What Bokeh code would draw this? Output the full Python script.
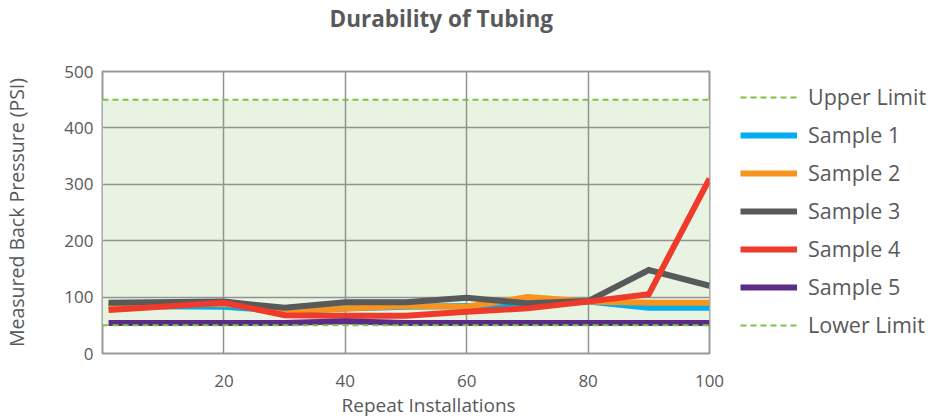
from bokeh.plotting import figure
from bokeh.models import Range1d, FixedTicker, BoxAnnotation, Legend, LegendItem, Title
from bokeh.embed import file_html
from bokeh.resources import INLINE

# ---- data ----
installs = [1, 20, 30, 40, 50, 60, 70, 80, 90, 100]
sample1 = [84, 83, 75, 80, 83, 84, 88, 92, 81, 81]
sample2 = [85, 88, 76, 80, 84, 83, 100, 92, 90, 90]
sample3 = [90, 92, 81, 91, 91, 99, 89, 93, 148, 120]
sample4 = [77, 90, 68, 67, 67, 74, 80, 92, 105, 310]
sample5 = [54, 54, 54, 57, 54, 54, 54, 54, 54, 54]
upper_limit = 450
lower_limit = 50
x_ticks = [20, 40, 60, 80, 100]
y_ticks = [0, 100, 200, 300, 400, 500]
series_names = ["Sample 1", "Sample 2", "Sample 3", "Sample 4", "Sample 5"]

TXT = "#58595B"
FONT = "Open Sans"
colors = ["#00AEEF", "#F7941D", "#58595B", "#EF3B2C", "#5B2C86"]
green = "#7DC242"

x_lo, x_hi = 0, 100
p = figure(frame_width=607, frame_height=282, x_range=Range1d(x_lo, x_hi), y_range=Range1d(0, 500),
           output_backend="svg", toolbar_location=None, title=None,
           min_border_left=0, min_border_right=0, min_border_top=0, min_border_bottom=0)

# spacer between frame and title, then the title itself (outermost)
spacer = Title(text=" ", text_font=FONT, text_font_size="10px", standoff=22)
p.add_layout(spacer, "above")
main_title = Title(text="Durability of Tubing", align="left", offset=227, standoff=0,
                   text_font=FONT, text_font_size="22.5px", text_font_style="bold", text_color=TXT)
p.add_layout(main_title, "above")

p.background_fill_color = "white"
p.border_fill_color = "white"
p.outline_line_color = "#999999"
p.outline_line_width = 2

# shaded acceptable band
band = BoxAnnotation(bottom=lower_limit, top=upper_limit, fill_color="#E9F3E1", fill_alpha=1,
                     line_alpha=0, level="image")
p.add_layout(band)

p.xgrid.ticker = FixedTicker(ticks=x_ticks)
p.ygrid.ticker = FixedTicker(ticks=y_ticks)
p.grid.grid_line_color = "#929292"
p.grid.grid_line_width = 1.5

for ax in (p.xaxis, p.yaxis):
    ax.axis_line_color = None
    ax.major_tick_line_color = None
    ax.minor_tick_line_color = None
    ax.major_label_text_font = FONT
    ax.major_label_text_font_size = "17px"
    ax.major_label_text_color = TXT
    ax.axis_label_text_font = FONT
    ax.axis_label_text_font_size = "19.5px"
    ax.axis_label_text_font_style = "normal"
    ax.axis_label_text_color = TXT

p.xaxis.ticker = FixedTicker(ticks=x_ticks)
p.yaxis.ticker = FixedTicker(ticks=y_ticks)
p.yaxis.axis_label = "Measured Back Pressure (PSI)"
p.xaxis.major_label_standoff = 15
p.yaxis.major_label_standoff = 3
p.yaxis.axis_label_standoff = 31

xlabel = Title(text="Repeat Installations", align="left", offset=239, standoff=0,
               text_font=FONT, text_font_size="19px", text_font_style="normal", text_color=TXT)
p.add_layout(xlabel, "below")

lim_x = [x_lo, x_hi]
r_up = p.line(lim_x, [upper_limit, upper_limit], line_color=green, line_width=2, line_dash="6 4")
rs = []
for ys, c in zip([sample1, sample2, sample3, sample4, sample5], colors):
    rs.append(p.line(installs, ys, line_color=c, line_width=6, line_join="miter"))
r_lo = p.line(lim_x, [lower_limit, lower_limit], line_color=green, line_width=2, line_dash="6 4")

items = [LegendItem(label="Upper Limit", renderers=[r_up])]
for name, r in zip(series_names, rs):
    items.append(LegendItem(label=name, renderers=[r]))
items.append(LegendItem(label="Lower Limit", renderers=[r_lo]))

legend = Legend(items=items, location=(31, 14), orientation="vertical",
                glyph_width=57, glyph_height=20, label_height=20, spacing=9,
                label_standoff=11, padding=10, margin=0,
                label_text_font=FONT, label_text_font_size="21.5px", label_text_color=TXT,
                border_line_color=None, background_fill_alpha=0)
p.add_layout(legend, "right")

open("out.html", "w").write(file_html(p, INLINE))
